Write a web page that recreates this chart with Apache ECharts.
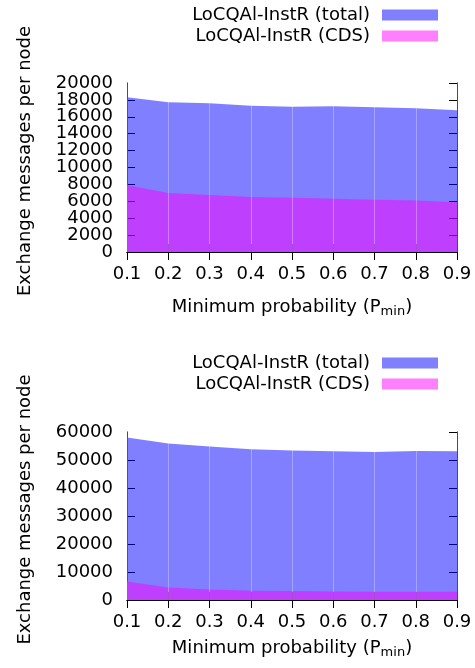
<!DOCTYPE html>
<html>
<head>
<meta charset="utf-8">
<script src="https://cdn.jsdelivr.net/npm/echarts@6/dist/echarts.min.js"></script>
<style>
html,body{margin:0;padding:0;background:#fff;}
#chart{width:475px;height:668px;}
</style>
</head>
<body>
<div id="chart"></div>
<script>
var categories = ['0.1','0.2','0.3','0.4','0.5','0.6','0.7','0.8','0.9'];
var topTotal = [18300, 17720, 17600, 17320, 17200, 17240, 17120, 17000, 16770];
var topCDS   = [7890, 6980, 6750, 6510, 6430, 6310, 6190, 6080, 5880];
var botTotal = [58000, 55870, 54800, 53840, 53380, 53130, 52880, 53240, 53130];
var botCDS   = [6620, 4480, 3770, 3310, 3200, 3060, 2950, 2950, 2950];
var seriesNames = ['LoCQAl-InstR (total)', 'LoCQAl-InstR (CDS)'];
var yName = 'Exchange messages per node';
var xName = 'Minimum probability (P{sub|min})';

var FONT = 'DejaVu Sans';
var FS = 18;
var chart = echarts.init(document.getElementById('chart'), null, {renderer: 'canvas'});

var grids = [
  {left: 127, right: 18, top: 83, height: 169},
  {left: 127, right: 18, top: 432, height: 168}
];

function xAxes(gi, nameGap) {
  var base = {type: 'category', data: categories, gridIndex: gi, boundaryGap: false};
  return [
    Object.assign({}, base, {
      position: 'bottom',
      axisLine: {show: true, lineStyle: {color: '#000', width: 1}},
      axisTick: {show: true, inside: true, length: 8, interval: 0, lineStyle: {color: '#000'}},
      axisLabel: {color: '#000', fontFamily: FONT, fontSize: FS, margin: 13, interval: 0,
        showMinLabel: true, showMaxLabel: true},
      splitLine: {show: false},
      name: xName, nameLocation: 'middle', nameGap: nameGap,
      nameTextStyle: {color: '#000', fontFamily: FONT, fontSize: FS, lineHeight: 22,
        rich: {sub: {fontFamily: FONT, fontSize: 13, lineHeight: 13, verticalAlign: 'bottom', color: '#000'}}}
    }),
    Object.assign({}, base, {
      position: 'top',
      axisLine: {show: true, lineStyle: {color: '#000', width: 1}},
      axisTick: {show: true, inside: true, length: 8, interval: 0, lineStyle: {color: '#000'}},
      axisLabel: {show: false},
      splitLine: {show: false}
    }),
    Object.assign({}, base, {
      position: 'bottom', z: 10,
      axisLine: {show: false}, axisTick: {show: false}, axisLabel: {show: false},
      splitLine: {show: true, interval: 0, lineStyle: {color: 'rgba(255,255,255,0.3)', width: 1}}
    })
  ];
}

function labelStyle(extra) {
  return Object.assign({color: '#000', fontFamily: FONT, fontSize: FS, margin: 14, lineHeight: 12,
    hideOverlap: false, formatter: function (v) { return String(v); }}, extra);
}

function yAxes(gi, max, interval, nameGap) {
  return [
    {
      type: 'value', gridIndex: gi, position: 'left', min: 0, max: max, interval: interval,
      axisLine: {show: true, lineStyle: {color: '#000', width: 1}},
      axisTick: {show: true, inside: true, length: 8, lineStyle: {color: '#000'}},
      axisLabel: labelStyle({showMinLabel: false, showMaxLabel: false}),
      splitLine: {show: false},
      name: yName, nameLocation: 'middle', nameGap: nameGap, nameRotate: 90,
      nameTextStyle: {color: '#000', fontFamily: FONT, fontSize: FS, padding: [0, 0, 0, 13]}
    },
    {
      type: 'value', gridIndex: gi, position: 'right', min: 0, max: max, interval: interval,
      axisLine: {show: true, lineStyle: {color: '#000', width: 1}},
      axisTick: {show: true, inside: true, length: 8, lineStyle: {color: '#000'}},
      axisLabel: {show: false},
      splitLine: {show: false}
    },
    {
      type: 'value', gridIndex: gi, position: 'left', offset: 0, min: 0, max: max, interval: max,
      axisLine: {show: false}, axisTick: {show: false}, splitLine: {show: false},
      axisLabel: labelStyle({showMinLabel: true, showMaxLabel: true})
    }
  ];
}

function areaSeries(name, data, xi, yi, itemColor, fill) {
  return {
    type: 'line', name: name, data: data, xAxisIndex: xi, yAxisIndex: yi,
    showSymbol: false, symbol: 'none', silent: true,
    itemStyle: {color: itemColor},
    lineStyle: {width: 0, color: itemColor},
    areaStyle: {color: fill, opacity: 1},
    animation: false
  };
}

function legend(top) {
  return {
    orient: 'vertical', right: 37, top: top, padding: 0, align: 'right',
    itemWidth: 56, itemHeight: 11, itemGap: 1, icon: 'rect',
    selectedMode: false,
    textStyle: {color: '#000', fontFamily: FONT, fontSize: FS, lineHeight: 20, padding: [0, 7, 0, 0]},
    data: seriesNames
  };
}

var option = {
  animation: false,
  backgroundColor: '#fff',
  grid: grids,
  legend: [legend(5), legend(353)],
  xAxis: xAxes(0, 44).concat(xAxes(1, 37)),
  yAxis: yAxes(0, 20000, 2000, 93).concat(yAxes(1, 60000, 10000, 93)),
  series: [
    areaSeries(seriesNames[0], topTotal, 0, 0, '#8080ff', 'rgba(0,0,255,0.5)'),
    areaSeries(seriesNames[1], topCDS, 0, 0, '#ff80ff', 'rgba(255,0,255,0.5)'),
    areaSeries(seriesNames[0], botTotal, 3, 3, '#8080ff', 'rgba(0,0,255,0.5)'),
    areaSeries(seriesNames[1], botCDS, 3, 3, '#ff80ff', 'rgba(255,0,255,0.5)')
  ]
};
chart.setOption(option);
</script>
</body>
</html>
